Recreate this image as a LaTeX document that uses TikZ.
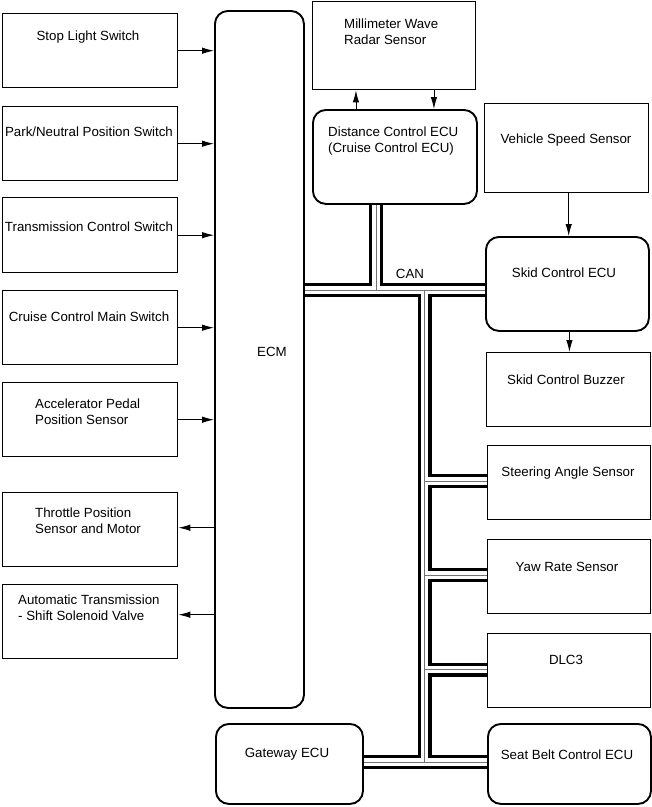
\documentclass[tikz,border=0pt]{standalone}
\usepackage{fontspec}
\setmainfont{Liberation Sans}
\usetikzlibrary{arrows.meta}
\tikzset{
  txt/.style={font=\fontsize{13.3}{16}\selectfont, inner sep=0pt},
  sqbox/.style={draw, line width=1.4pt, anchor=north west, inner sep=0pt},
  rbox/.style={draw, line width=1.9pt, rounded corners=13pt, anchor=north west, inner sep=0pt},
  arr/.style={line width=0.9pt, -{Latex[length=12pt,width=6.5pt]}},
  buswall/.style={line width=14pt, black, line cap=butt},
  busin/.style={line width=7.5pt, white, line cap=butt},
  buscore/.style={line width=0.9pt, black!55, line cap=butt},
}
\begin{document}
\begin{tikzpicture}[x=1pt, y=-1pt]
\useasboundingbox (0,0) rectangle (652,807);
% left column
\node[sqbox, minimum width=175pt, minimum height=74pt] (stop) at (2,13) {};
\node[sqbox, minimum width=175pt, minimum height=74pt] (park) at (2,106) {};
\node[sqbox, minimum width=175pt, minimum height=75pt] (trans) at (2,197) {};
\node[sqbox, minimum width=175pt, minimum height=74pt] (cruise) at (2,290) {};
\node[sqbox, minimum width=175pt, minimum height=74pt] (accel) at (2,382) {};
\node[sqbox, minimum width=175pt, minimum height=74pt] (throttle) at (2,492) {};
\node[sqbox, minimum width=175pt, minimum height=74pt] (atbox) at (2,584) {};
\node[txt] (stopT) at (88,37) {Stop Light Switch};
\node[txt] (parkT) at (89,132) {Park/Neutral Position Switch};
\node[txt] (transT) at (89,227) {Transmission Control Switch};
\node[txt] (cruiseT) at (89,317) {Cruise Control Main Switch};
\node[txt, align=left, anchor=west] (accelT) at (35,411.5) {Accelerator Pedal\\Position Sensor};
\node[txt, align=left, anchor=west] (throttleT) at (35,520.5) {Throttle Position\\Sensor and Motor};
\node[txt, align=left, anchor=west] (atT) at (18,607.5) {Automatic Transmission\\- Shift Solenoid Valve};
% ECM
\node[rbox, minimum width=89pt, minimum height=697pt] (ecm) at (214,10) {};
\node[txt] (ecmT) at (272,352) {ECM};
% middle / right
\node[sqbox, minimum width=163pt, minimum height=88pt] (radar) at (312,1) {};
\node[txt, align=left, anchor=west] (radarT) at (344,31.5) {Millimeter Wave\\Radar Sensor};
\node[rbox, minimum width=164pt, minimum height=94pt] (dist) at (312,109) {};
\node[txt, align=left, anchor=west] (distT) at (328,141.5) {Distance Control ECU\\(Cruise Control ECU)};
\node[sqbox, minimum width=164pt, minimum height=89pt] (vss) at (484,103) {};
\node[txt] (vssT) at (566,140) {Vehicle Speed Sensor};
\node[rbox, minimum width=163pt, minimum height=94pt] (skid) at (485,236) {};
\node[txt] (skidT) at (564,273) {Skid Control ECU};
\node[sqbox, minimum width=164pt, minimum height=74pt] (buzzer) at (486,352) {};
\node[txt] (buzzerT) at (566,380) {Skid Control Buzzer};
\node[sqbox, minimum width=163pt, minimum height=74pt] (steer) at (487,445) {};
\node[txt] (steerT) at (568,473) {Steering Angle Sensor};
\node[sqbox, minimum width=163pt, minimum height=74pt] (yaw) at (487,539) {};
\node[txt] (yawT) at (567,567) {Yaw Rate Sensor};
\node[sqbox, minimum width=163pt, minimum height=74pt] (dlc) at (487,633) {};
\node[txt] (dlcT) at (566,660) {DLC3};
\node[rbox, minimum width=147pt, minimum height=80pt] (gate) at (215,723) {};
\node[txt] (gateT) at (287,754) {Gateway ECU};
\node[rbox, minimum width=163pt, minimum height=80pt] (seat) at (487,723) {};
\node[txt] (seatT) at (567,755) {Seat Belt Control ECU};
\node[txt] (canT) at (410,274) {CAN};
% arrows to/from ECM
\draw[arr] (stop.east) -- (ecm.west |- stop.east);
\draw[arr] (park.east) -- (ecm.west |- park.east);
\draw[arr] (trans.east) -- (ecm.west |- trans.east);
\draw[arr] (cruise.east) -- (ecm.west |- cruise.east);
\draw[arr] (accel.east) -- (ecm.west |- accel.east);
\draw[arr] ([yshift=2pt]ecm.west |- throttle.east) -- ([yshift=2pt]throttle.east);
\draw[arr] ([yshift=7pt]ecm.west |- atbox.east) -- ([yshift=7pt]atbox.east);
% radar arrows
\draw[arr] ([xshift=-39pt]dist.north) -- ([xshift=-39pt]dist.north |- radar.south);
\draw[arr] ([xshift=39pt]dist.north |- radar.south) -- ([xshift=39pt]dist.north);
% speed / buzzer arrows
\draw[arr] ([xshift=2pt]vss.south) -- ([xshift=2pt]vss.south |- skid.north);
\draw[arr] ([xshift=2pt]skid.south) -- ([xshift=2pt]skid.south |- buzzer.north);
% CAN bus
\coordinate (ytop) at (0,290);
\coordinate (ybot) at (0,762);
\coordinate (stubx) at (376,0);
\coordinate (trx) at (424.5,0);
\foreach \lay in {buswall,busin,buscore}{
  \draw[\lay] (ecm.east |- ytop) -- (skid.west |- ytop);
  \draw[\lay] (stubx |- dist.south) -- (stubx |- ytop);
  \draw[\lay] (trx |- ytop) -- (trx |- ybot);
  \draw[\lay] ([yshift=1.5pt]trx |- steer.west) -- ([yshift=1.5pt]steer.west);
  \draw[\lay] ([yshift=1.5pt]trx |- yaw.west) -- ([yshift=1.5pt]yaw.west);
  \draw[\lay] ([yshift=1pt]trx |- dlc.west) -- ([yshift=1pt]dlc.west);
  \draw[\lay] (gate.east |- ybot) -- (seat.west |- ybot);
}
\end{tikzpicture}
\end{document}
